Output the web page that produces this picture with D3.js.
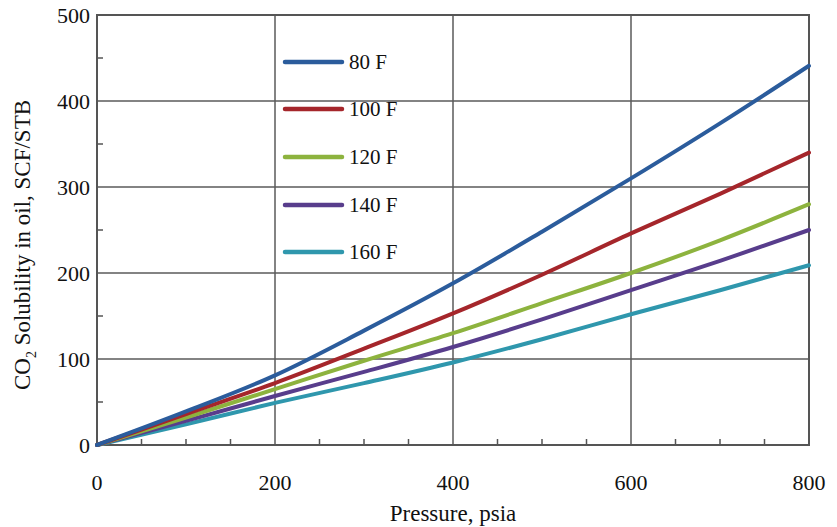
<!DOCTYPE html>
<html>
<head>
<meta charset="utf-8">
<script src="https://cdn.jsdelivr.net/npm/d3@7"></script>
<style>
  body { margin: 0; background: #fff; }
  svg { display: block; font-family: "Liberation Serif", "Times New Roman", serif; }
</style>
</head>
<body>
<svg id="chart" width="837" height="527"></svg>
<script>
// values
const pressure = [0, 100, 200, 300, 400, 500, 600, 700, 800];
const sol80 = [0, 39, 81, 133, 188, 248, 310, 374, 441];
const sol100 = [0, 36, 72, 112, 153, 198, 246, 292, 340];
const sol120 = [0, 32, 65, 98, 130, 165, 200, 238, 280];
const sol140 = [0, 28, 57, 85, 114, 146, 180, 214, 250];
const sol160 = [0, 24, 49, 72, 96, 123, 152, 180, 209];
const seriesNames = ["80 F", "100 F", "120 F", "140 F", "160 F"];
const xTicks = [0, 200, 400, 600, 800];
const yTicks = [0, 100, 200, 300, 400, 500];

const svg = d3.select("#chart");
const plotLeft = 97, plotRight = 809, plotTop = 15, plotBottom = 445;

const x = d3.scaleLinear().domain([0, 800]).range([plotLeft, plotRight]);
const y = d3.scaleLinear().domain([0, 500]).range([plotBottom, plotTop]);
const color = d3.scaleOrdinal()
  .domain(seriesNames)
  .range(["#2b5c9c", "#a5262b", "#8db33e", "#583d8c", "#2f97ad"]);

const series = [sol80, sol100, sol120, sol140, sol160].map((vals, i) => ({
  name: seriesNames[i],
  points: pressure.map((p, j) => ({ p, v: vals[j] }))
}));

const axisColor = "#555";

// gridlines
svg.append("g").selectAll("line")
  .data([200, 400, 600])
  .join("line")
  .attr("x1", d => x(d)).attr("x2", d => x(d))
  .attr("y1", plotTop).attr("y2", plotBottom)
  .attr("stroke", "#5a5a5a").attr("stroke-width", 1.5);

svg.append("g").selectAll("line")
  .data([100, 200, 300, 400])
  .join("line")
  .attr("x1", plotLeft).attr("x2", plotRight)
  .attr("y1", d => y(d)).attr("y2", d => y(d))
  .attr("stroke", "#5a5a5a").attr("stroke-width", 1.5);

// minor ticks, pointing inward
const xMinor = d3.range(50, 800, 50).filter(d => d % 200 !== 0);
svg.append("g").selectAll("line")
  .data(xMinor)
  .join("line")
  .attr("x1", d => x(d)).attr("x2", d => x(d))
  .attr("y1", plotBottom).attr("y2", plotBottom - 6)
  .attr("stroke", axisColor).attr("stroke-width", 1.5);

const yMinor = d3.range(50, 500, 100);
svg.append("g").selectAll("line")
  .data(yMinor)
  .join("line")
  .attr("x1", plotLeft).attr("x2", plotLeft + 6)
  .attr("y1", d => y(d)).attr("y2", d => y(d))
  .attr("stroke", axisColor).attr("stroke-width", 1.5);

// frame
svg.append("rect")
  .attr("x", plotLeft).attr("y", plotTop)
  .attr("width", plotRight - plotLeft).attr("height", plotBottom - plotTop)
  .attr("fill", "none")
  .attr("stroke", axisColor)
  .attr("stroke-width", 2);

// tick labels
svg.append("g").selectAll("text")
  .data(xTicks)
  .join("text")
  .attr("x", d => x(d))
  .attr("y", 490)
  .attr("text-anchor", "middle")
  .attr("font-size", 22)
  .attr("fill", "#111")
  .text(d => d);

svg.append("g").selectAll("text")
  .data(yTicks)
  .join("text")
  .attr("x", 90)
  .attr("y", d => y(d))
  .attr("dy", "0.35em")
  .attr("text-anchor", "end")
  .attr("font-size", 22)
  .attr("fill", "#111")
  .text(d => d);

// axis titles
svg.append("text")
  .attr("x", (plotLeft + plotRight) / 2)
  .attr("y", 521)
  .attr("text-anchor", "middle")
  .attr("font-size", 23)
  .attr("fill", "#111")
  .text("Pressure, psia");

const yTitle = svg.append("text")
  .attr("transform", "translate(30,245) rotate(-90)")
  .attr("text-anchor", "middle")
  .attr("font-size", 23)
  .attr("fill", "#111");
yTitle.append("tspan").text("CO");
yTitle.append("tspan").attr("font-size", 14).attr("dy", 6).text("2");
yTitle.append("tspan").attr("dy", -6).text(" Solubility in oil, SCF/STB");

// series lines
const line = d3.line()
  .x(d => x(d.p))
  .y(d => y(d.v))
  .curve(d3.curveMonotoneX);

svg.append("g").selectAll("path")
  .data(series.slice().reverse())
  .join("path")
  .attr("d", d => line(d.points))
  .attr("fill", "none")
  .attr("stroke", d => color(d.name))
  .attr("stroke-width", 4)
  .attr("stroke-linecap", "round");

// legend
const legendY = [62, 109, 157, 205, 252];
const legend = svg.append("g").selectAll("g")
  .data(series)
  .join("g")
  .attr("transform", (d, i) => `translate(285,${legendY[i]})`);

legend.append("line")
  .attr("x1", 0).attr("x2", 57)
  .attr("stroke", d => color(d.name))
  .attr("stroke-width", 4.5)
  .attr("stroke-linecap", "round");

legend.append("text")
  .attr("x", 64)
  .attr("dy", "0.35em")
  .attr("font-size", 21)
  .attr("fill", "#111")
  .text(d => d.name);
</script>
</body>
</html>
